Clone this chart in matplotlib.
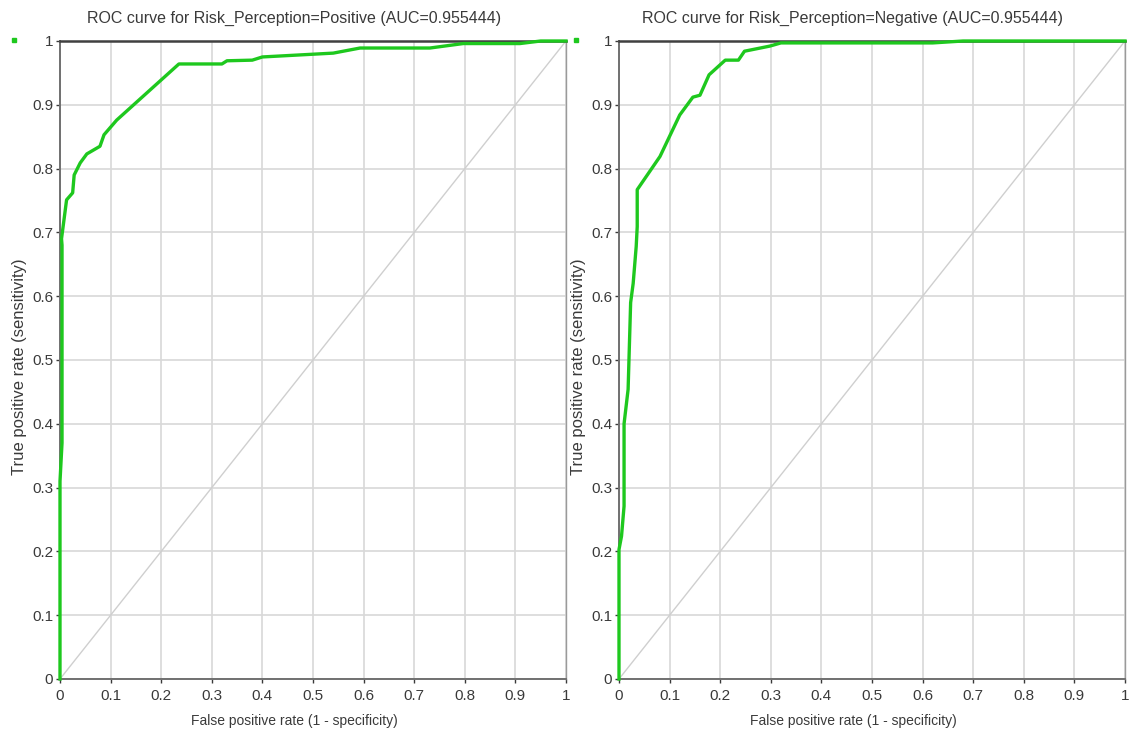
import matplotlib
matplotlib.use("Agg")
import matplotlib.pyplot as plt
from matplotlib.lines import Line2D

plt.rcParams['font.family'] = ['Liberation Sans', 'DejaVu Sans']

titles = ["ROC curve for Risk_Perception=Positive (AUC=0.955444)",
          "ROC curve for Risk_Perception=Negative (AUC=0.955444)"]
xlabel = "False positive rate (1 - specificity)"
ylabel = "True positive rate (sensitivity)"
ticks = [0, 0.1, 0.2, 0.3, 0.4, 0.5, 0.6, 0.7, 0.8, 0.9, 1]
tick_labels = ["0", "0.1", "0.2", "0.3", "0.4", "0.5", "0.6", "0.7", "0.8", "0.9", "1"]

pos_fpr = [0, 0, 0.004, 0.004, 0.003, 0.013, 0.025, 0.028, 0.040, 0.053, 0.079,
           0.087, 0.112, 0.235, 0.32, 0.33, 0.38, 0.40, 0.54, 0.593, 0.731,
           0.797, 0.909, 0.95, 1.0]
pos_tpr = [0, 0.31, 0.37, 0.68, 0.69, 0.751, 0.762, 0.79, 0.809, 0.823, 0.835,
           0.853, 0.876, 0.964, 0.964, 0.969, 0.970, 0.975, 0.981, 0.989, 0.989,
           0.996, 0.996, 1.0, 1.0]

neg_fpr = [0, 0, 0, 0.005, 0.01, 0.01, 0.018, 0.023, 0.028, 0.034, 0.036, 0.036,
           0.081, 0.12, 0.146, 0.16, 0.178, 0.21, 0.236, 0.248, 0.298, 0.32,
           0.62, 0.68, 1.0]
neg_tpr = [0, 0.047, 0.203, 0.224, 0.271, 0.40, 0.454, 0.59, 0.62, 0.678, 0.709,
           0.767, 0.819, 0.884, 0.912, 0.915, 0.947, 0.970, 0.970, 0.984, 0.992,
           0.997, 0.997, 1.0, 1.0]

W, H = 1130, 734
fig = plt.figure(figsize=(W / 100, H / 100), dpi=100)
fig.patch.set_facecolor("white")

green = "#1ec81e"
grid_c = "#d8d8d8"
text_c = "#3a3a3a"

axes_px = [(60, 566), (619, 1125)]
top_px, bot_px = 41, 679
title_cx = [294, 853]
ylab_cx = [20, 579]
curves = [(pos_fpr, pos_tpr), (neg_fpr, neg_tpr)]

for i, (l, r) in enumerate(axes_px):
    ax = fig.add_axes([l / W, 1 - bot_px / H, (r - l) / W, (bot_px - top_px) / H])
    ax.set_xlim(0, 1)
    ax.set_ylim(0, 1)
    ax.set_xticks(ticks)
    ax.set_yticks(ticks)
    ax.set_xticklabels(tick_labels)
    ax.set_yticklabels(tick_labels)
    ax.tick_params(colors=text_c, labelsize=11, length=3, width=1, direction="out", pad=2)
    ax.tick_params(axis="x", pad=4)
    ax.grid(True, color=grid_c, linewidth=1.2)
    ax.set_axisbelow(True)
    for s in ["left", "bottom", "right"]:
        ax.spines[s].set_color("#707070")
        ax.spines[s].set_linewidth(1.4)
    ax.spines["right"].set_color("#9a9a9a")
    ax.spines["right"].set_linewidth(1.0)
    ax.spines["top"].set_color("#404040")
    ax.spines["top"].set_linewidth(1.8)
    ax.plot([0, 1], [0, 1], color="#cfcfcf", linewidth=1.0, zorder=2)
    fx, ty = curves[i]
    ax.plot(fx, ty, color=green, linewidth=2.4, zorder=3, clip_on=False,
            solid_joinstyle="round")
    fig.text(title_cx[i] / W, 1 - 18 / H, titles[i], ha="center", va="center",
             fontsize=11.5, color=text_c)
    fig.text(title_cx[i] / W, 1 - 721 / H, xlabel, ha="center", va="center",
             fontsize=10, color=text_c)
    fig.text(ylab_cx[i] / W, 1 - 367 / H, ylabel, ha="center", va="center",
             rotation=90, fontsize=12, color=text_c)

# small green marks at the top
for xp in [14, 576]:
    fig.add_artist(Line2D([xp / W], [1 - 40 / H], marker="s", markersize=2.5,
                          color=green, transform=fig.transFigure))

fig.savefig("out.png", dpi=100, facecolor="white")
